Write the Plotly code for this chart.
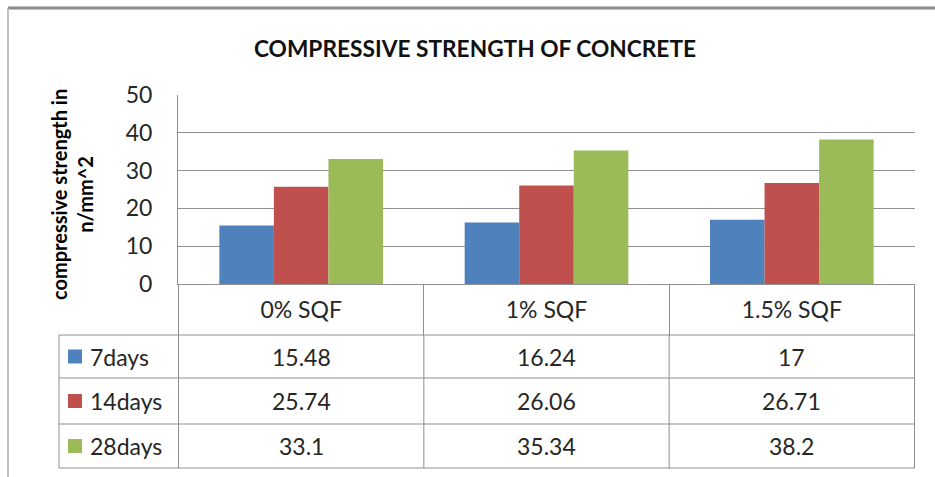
import plotly.graph_objects as go

# ---- data ----
categories = ["0% SQF", "1% SQF", "1.5% SQF"]
series_names = ["7days", "14days", "28days"]
days7 = [15.48, 16.24, 17]
days14 = [25.74, 26.06, 26.71]
days28 = [33.1, 35.34, 38.2]
y_ticks = [0, 10, 20, 30, 40, 50]
colors = ["#4F81BD", "#C0504D", "#9BBB59"]

title_text = "COMPRESSIVE STRENGTH OF CONCRETE"
ytitle_text = "compressive strength in<br>n/mm^2"

# ---- layout geometry (pixels) ----
W, H = 935, 477
L, R, T, B = 59, 20, 95, 9
PW, PH = W - L - R, H - T - B
plot_left, plot_right, plot_bottom = 178, 915, 284
row_edges = [335, 378, 424, 468]
FONT = "Lato"
GRID = "#8f8f8f"
TXT = "#262626"

def px_x(x):
    return (x - L) / PW

def px_y(y):
    return (H - B - y) / PH

series = [days7, days14, days28]

fig = go.Figure()
for name, vals, col in zip(series_names, series, colors):
    fig.add_trace(go.Bar(x=categories, y=vals, name=name, marker_color=col,
                         marker_line_width=0, showlegend=False))

shapes = [
    # chart outer frame (top + left visible)
    dict(type="line", xref="paper", yref="paper", x0=px_x(8), x1=px_x(W),
         y0=px_y(8), y1=px_y(8), line=dict(color="#8a8a8a", width=3)),
    dict(type="line", xref="paper", yref="paper", x0=px_x(8), x1=px_x(8),
         y0=px_y(8), y1=px_y(H), line=dict(color="#b0b0b0", width=1.5)),
]
annotations = [dict(text=ytitle_text, textangle=-90, xref="paper", yref="paper",
                    x=px_x(72), y=px_y(195), xanchor="center", yanchor="middle",
                    showarrow=False,
                    font=dict(family=FONT, size=20, color="#000", weight="bold"))]

# data table: horizontal rules
for yy in row_edges:
    shapes.append(dict(type="line", xref="paper", yref="paper", x0=0, x1=1,
                       y0=px_y(yy), y1=px_y(yy), line=dict(color=GRID, width=1)))
# data table: vertical rules (outer left + category boundaries)
shapes.append(dict(type="line", xref="paper", yref="paper", x0=0, x1=0,
                   y0=px_y(row_edges[0]), y1=px_y(row_edges[-1]),
                   line=dict(color=GRID, width=1)))
for k in range(len(categories) + 1):
    shapes.append(dict(type="line", xref="x", yref="paper", x0=k - 0.5, x1=k - 0.5,
                       y0=px_y(row_edges[0]), y1=px_y(row_edges[-1]),
                       line=dict(color=GRID, width=1)))

for j, (name, vals, col) in enumerate(zip(series_names, series, colors)):
    yc = (row_edges[j] + row_edges[j + 1]) / 2
    shapes.append(dict(type="rect", xref="paper", yref="paper",
                       x0=px_x(68), x1=px_x(82), y0=px_y(yc - 7), y1=px_y(yc + 7),
                       fillcolor=col, line=dict(width=0)))
    annotations.append(dict(text=name, xref="paper", yref="paper", x=px_x(88),
                            y=px_y(yc), xanchor="left", yanchor="middle",
                            showarrow=False, font=dict(family=FONT, size=23, color=TXT)))
    for cat, v in zip(categories, vals):
        annotations.append(dict(text=f"{v:g}", xref="x", yref="paper", x=cat,
                                y=px_y(yc), xanchor="center", yanchor="middle",
                                showarrow=False,
                                font=dict(family=FONT, size=23, color=TXT)))

fig.update_layout(
    width=W, height=H,
    margin=dict(l=L, r=R, t=T, b=B, autoexpand=False),
    paper_bgcolor="white", plot_bgcolor="white",
    bargap=0.333, bargroupgap=0, barmode="group",
    title=dict(text=title_text, x=475 / W, xref="container", xanchor="center",
               y=1 - 49 / H, yref="container", yanchor="middle",
               font=dict(family=FONT, size=22.7, color="#111", weight="bold")),
    xaxis=dict(domain=[px_x(plot_left), px_x(plot_right)], type="category",
               tickson="boundaries", ticks="outside",
               ticklen=row_edges[0] - plot_bottom,
               tickcolor=GRID, tickwidth=1, showline=True, linecolor=GRID,
               showgrid=False, ticklabelstandoff=5, automargin=False,
               tickfont=dict(family=FONT, size=23, color=TXT)),
    yaxis=dict(domain=[px_y(plot_bottom), 1], range=[0, 50], tickvals=y_ticks,
               showgrid=True, gridcolor=GRID, gridwidth=1, zeroline=False,
               showline=True, linecolor=GRID, ticks="", ticklabelstandoff=20,
               automargin=False,
               tickfont=dict(family=FONT, size=23, color=TXT)),
    annotations=annotations,
    shapes=shapes,
)

fig.write_html("out.html", config={"displayModeBar": False},
               post_script="document.body.style.margin='0px';")
